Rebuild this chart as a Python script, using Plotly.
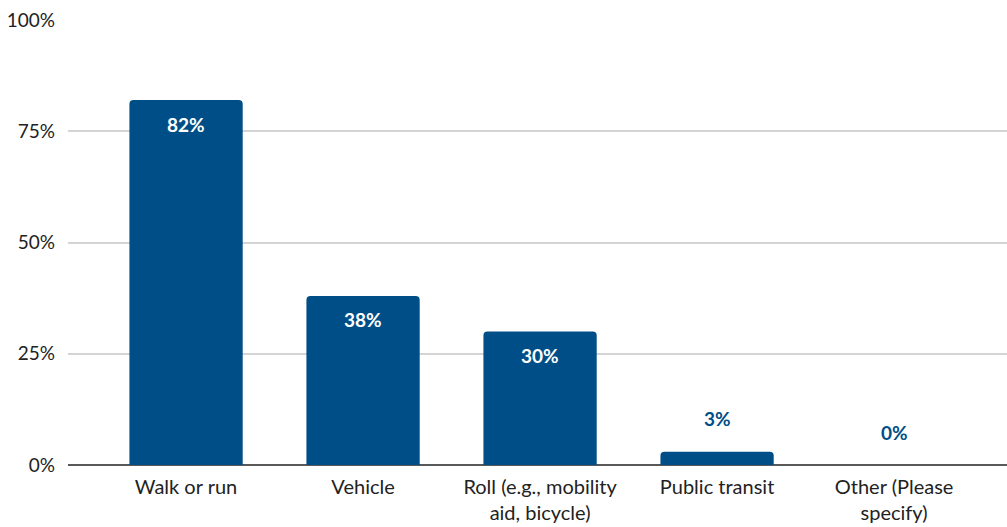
import plotly.graph_objects as go

# Data
categories = ["Walk or run", "Vehicle", "Roll (e.g., mobility<br>aid, bicycle)",
              "Public transit", "Other (Please<br>specify)"]
shares = [82, 38, 30, 3, 0]
y_ticks = [0, 25, 50, 75, 100]
y_tick_labels = [f"{t}%" for t in y_ticks]

BAR = '#004E87'
FONT = 'Lato'

fig = go.Figure(go.Bar(
    x=categories,
    y=shares,
    width=0.64,
    marker=dict(color=BAR, line=dict(width=0)),
    hoverinfo='skip',
))

# value labels: inside (white) for tall bars, above (blue) for short ones
for cat, val in zip(categories, shares):
    inside = val >= 10
    fig.add_annotation(
        x=cat, y=val, text=f"<b>{val}%</b>", showarrow=False,
        yanchor='middle', yshift=-24 if inside else 33,
        font=dict(family=FONT, size=19, color='white' if inside else BAR),
    )

fig.update_layout(
    width=1007, height=527,
    margin=dict(l=68, r=0, t=20, b=62),
    paper_bgcolor='white', plot_bgcolor='white',
    font=dict(family=FONT, size=18, color='#222222'),
    barcornerradius=4,
    showlegend=False,
    xaxis=dict(
        type='category', range=[-0.667, 4.638],
        showgrid=False, ticks='', showline=False, ticklabelstandoff=8,
        tickfont=dict(size=20, color='#222222'),
    ),
    yaxis=dict(
        range=[0, 100], tickvals=y_ticks, ticktext=y_tick_labels,
        showgrid=True, gridcolor='#D4D4D4', gridwidth=1.5,
        zeroline=True, zerolinecolor='#595959', zerolinewidth=1.5,
        showline=False, ticks='', ticklabelstandoff=12,
        tickfont=dict(size=19, color='#222222'),
    ),
)

# drop the default page margin so the figure sits at the window corner
fig.write_html("out.html", config={'displayModeBar': False},
               post_script="document.body.style.margin='0';")
